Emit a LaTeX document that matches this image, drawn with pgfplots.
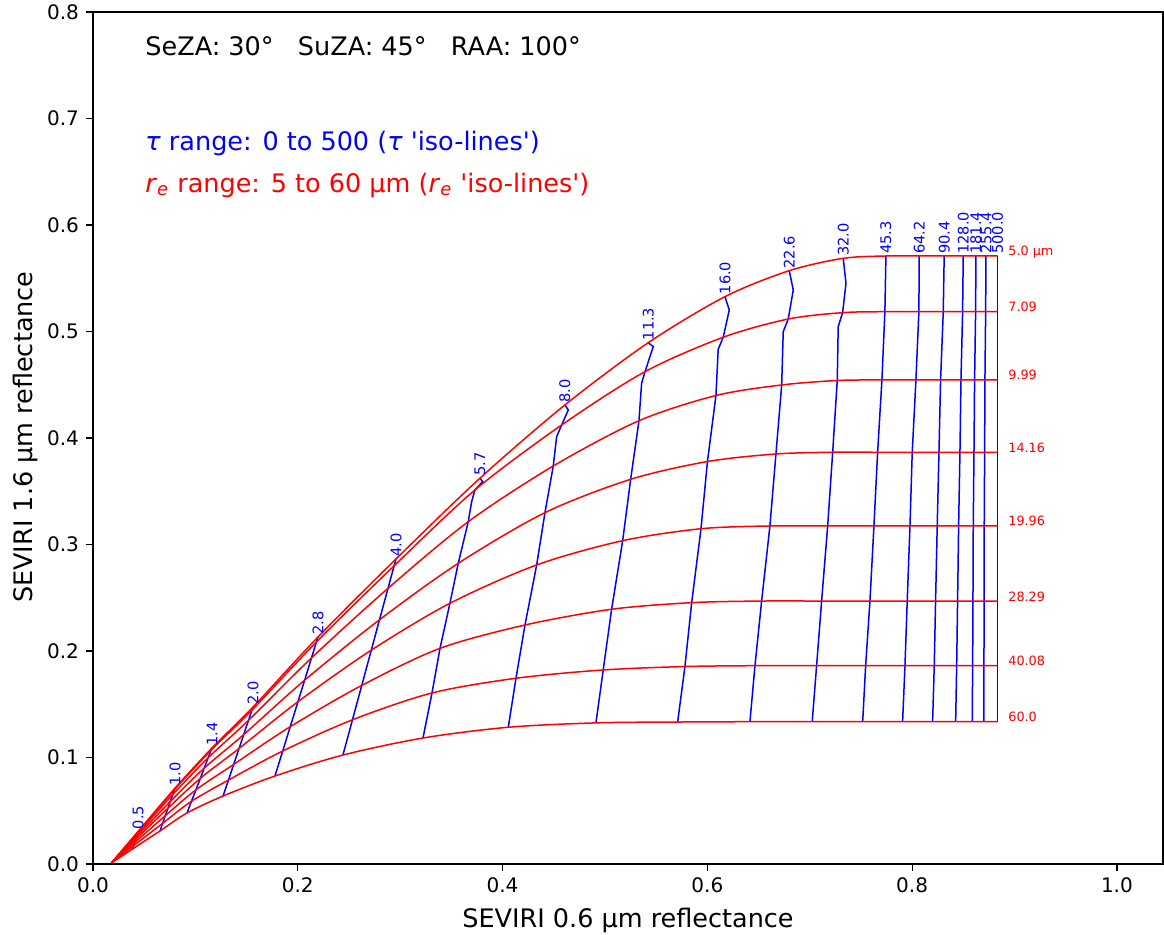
\documentclass[border=0pt]{standalone}
\usepackage{fontspec}
\setmainfont{DejaVu Sans}
\usepackage{pgfplots}
\pgfplotsset{compat=1.18}
\begin{document}
\begin{tikzpicture}
\useasboundingbox (-46.5pt,-35.5pt) rectangle (535.5pt,432pt);
\begin{axis}[
  at={(0pt,0pt)}, anchor=south west,
  scale only axis, width=535pt, height=426pt,
  xmin=0, xmax=1.045, ymin=0, ymax=0.8,
  xtick={0,0.2,0.4,0.6,0.8,1.0},
  ytick={0,0.1,0.2,0.3,0.4,0.5,0.6,0.7,0.8},
  xtick pos=bottom, ytick pos=left,
  tick align=outside,
  major tick length=3.5pt,
  axis line style={line width=0.6pt},
  every tick/.style={black, line width=0.6pt},
  tick label style={font=\fontsize{10}{12}\selectfont},
  xticklabel style={/pgf/number format/fixed, /pgf/number format/fixed zerofill, /pgf/number format/precision=1},
  yticklabel style={/pgf/number format/fixed, /pgf/number format/fixed zerofill, /pgf/number format/precision=1},
  /pgf/number format/assume math mode=true,
  xlabel={SEVIRI 0.6 µm reflectance},
  ylabel={SEVIRI 1.6 µm reflectance},
  label style={font=\fontsize{12.75}{15}\selectfont},
  xlabel style={at={(axis description cs:0.5,-0.0751)}, anchor=base},
  ylabel style={at={(axis description cs:-0.057,0.501)}, anchor=base},
  clip=false,
]
% ---- tau iso-lines (blue) ----
\addplot[blue, line width=0.75pt] coordinates {(0.0440,0.0305) (0.0438,0.0299) (0.0432,0.0280) (0.0423,0.0254) (0.0414,0.0228) (0.0405,0.0199) (0.0395,0.0170) (0.0385,0.0140)};
\addplot[blue, line width=0.75pt] coordinates {(0.0801,0.0712) (0.0796,0.0698) (0.0779,0.0652) (0.0755,0.0587) (0.0733,0.0525) (0.0706,0.0453) (0.0680,0.0382) (0.0654,0.0310)};
\addplot[blue, line width=0.75pt] coordinates {(0.1162,0.1089) (0.1153,0.1068) (0.1125,0.0998) (0.1086,0.0900) (0.1049,0.0805) (0.1005,0.0696) (0.0962,0.0589) (0.0918,0.0479)};
\addplot[blue, line width=0.75pt] coordinates {(0.1563,0.1474) (0.1553,0.1445) (0.1519,0.1349) (0.1472,0.1215) (0.1427,0.1085) (0.1374,0.0935) (0.1323,0.0788) (0.1270,0.0638)};
\addplot[blue, line width=0.75pt] coordinates {(0.2197,0.2131) (0.2182,0.2085) (0.2134,0.1935) (0.2067,0.1726) (0.2002,0.1524) (0.1926,0.1289) (0.1853,0.1061) (0.1777,0.0826)};
\addplot[blue, line width=0.75pt] coordinates {(0.2959,0.2864) (0.2941,0.2800) (0.2881,0.2588) (0.2798,0.2293) (0.2718,0.2008) (0.2625,0.1677) (0.2534,0.1354) (0.2441,0.1023)};
\addplot[blue, line width=0.75pt] coordinates {(0.3779,0.3622) (0.3806,0.3590) (0.3730,0.3512) (0.3698,0.3402) (0.3665,0.3214) (0.3567,0.2823) (0.3486,0.2448) (0.3389,0.2025) (0.3311,0.1606) (0.3223,0.1183)};
\addplot[blue, line width=0.75pt] coordinates {(0.4609,0.4310) (0.4642,0.4263) (0.4577,0.4122) (0.4528,0.4012) (0.4495,0.3737) (0.4414,0.3299) (0.4333,0.2808) (0.4219,0.2244) (0.4131,0.1744) (0.4056,0.1284)};
\addplot[blue, line width=0.75pt] coordinates {(0.5423,0.4895) (0.5472,0.4857) (0.5391,0.4623) (0.5358,0.4514) (0.5332,0.4162) (0.5251,0.3612) (0.5173,0.3036) (0.5065,0.2392) (0.4983,0.1822) (0.4912,0.1325)};
\addplot[blue, line width=0.75pt] coordinates {(0.6172,0.5327) (0.6214,0.5202) (0.6155,0.4946) (0.6106,0.4833) (0.6084,0.4399) (0.6001,0.3779) (0.5938,0.3148) (0.5847,0.2454) (0.5781,0.1854) (0.5710,0.1333)};
\addplot[blue, line width=0.75pt] coordinates {(0.6800,0.5571) (0.6839,0.5390) (0.6790,0.5117) (0.6741,0.4998) (0.6726,0.4498) (0.6670,0.3850) (0.6611,0.3174) (0.6530,0.2469) (0.6465,0.1862) (0.6416,0.1336)};
\addplot[blue, line width=0.75pt] coordinates {(0.7327,0.5687) (0.7354,0.5452) (0.7321,0.5177) (0.7278,0.5045) (0.7269,0.4545) (0.7224,0.3866) (0.7175,0.3174) (0.7116,0.2469) (0.7067,0.1862) (0.7024,0.1336)};
\addplot[blue, line width=0.75pt] coordinates {(0.7744,0.5709) (0.7734,0.5186) (0.7705,0.4545) (0.7663,0.3866) (0.7627,0.3174) (0.7588,0.2469) (0.7546,0.1862) (0.7517,0.1336)};
\addplot[blue, line width=0.75pt] coordinates {(0.8069,0.5709) (0.8066,0.5186) (0.8037,0.4545) (0.8001,0.3866) (0.7979,0.3174) (0.7952,0.2469) (0.7930,0.1862) (0.7907,0.1336)};
\addplot[blue, line width=0.75pt] coordinates {(0.8313,0.5709) (0.8304,0.5186) (0.8278,0.4545) (0.8262,0.3866) (0.8245,0.3174) (0.8229,0.2469) (0.8216,0.1862) (0.8200,0.1336)};
\addplot[blue, line width=0.75pt] coordinates {(0.8499,0.5709) (0.8493,0.5186) (0.8477,0.4545) (0.8467,0.3866) (0.8454,0.3174) (0.8444,0.2469) (0.8435,0.1862) (0.8425,0.1336)};
\addplot[blue, line width=0.75pt] coordinates {(0.8623,0.5709) (0.8620,0.5186) (0.8610,0.4545) (0.8604,0.3866) (0.8597,0.3174) (0.8594,0.2469) (0.8591,0.1862) (0.8587,0.1336)};
\addplot[blue, line width=0.75pt] coordinates {(0.8721,0.5709) (0.8718,0.5186) (0.8711,0.4545) (0.8708,0.3866) (0.8704,0.3174) (0.8704,0.2469) (0.8701,0.1862) (0.8701,0.1336)};
\addplot[blue, line width=0.75pt] coordinates {(0.8835,0.5709) (0.8835,0.5186) (0.8835,0.4545) (0.8835,0.3866) (0.8835,0.3174) (0.8835,0.2469) (0.8835,0.1862) (0.8835,0.1336)};
% ---- r_e iso-lines (red) ----
\addplot[red, line width=0.75pt, smooth] coordinates {(0.018,0.001) (0.0440,0.0305) (0.0801,0.0712) (0.1162,0.1089) (0.1563,0.1474) (0.2197,0.2131) (0.2959,0.2864) (0.3779,0.3622) (0.4609,0.4310) (0.5423,0.4895) (0.6172,0.5327) (0.6800,0.5571) (0.7327,0.5687) (0.7744,0.5709) (0.8069,0.5709) (0.8313,0.5709) (0.8499,0.5709) (0.8623,0.5709) (0.8721,0.5709) (0.8835,0.5709)};
\addplot[red, line width=0.75pt, smooth] coordinates {(0.018,0.001) (0.0438,0.0299) (0.0796,0.0698) (0.1153,0.1068) (0.1553,0.1445) (0.2182,0.2085) (0.2941,0.2800) (0.3730,0.3512) (0.4577,0.4122) (0.5391,0.4623) (0.6155,0.4946) (0.6790,0.5117) (0.7321,0.5177) (0.7734,0.5186) (0.8066,0.5186) (0.8304,0.5186) (0.8493,0.5186) (0.8620,0.5186) (0.8718,0.5186) (0.8835,0.5186)};
\addplot[red, line width=0.75pt, smooth] coordinates {(0.018,0.001) (0.0432,0.0280) (0.0779,0.0652) (0.1125,0.0998) (0.1519,0.1349) (0.2134,0.1935) (0.2881,0.2588) (0.3665,0.3214) (0.4495,0.3737) (0.5332,0.4162) (0.6084,0.4399) (0.6726,0.4498) (0.7269,0.4540) (0.7705,0.4545) (0.8037,0.4545) (0.8278,0.4545) (0.8477,0.4545) (0.8610,0.4545) (0.8711,0.4545) (0.8835,0.4545)};
\addplot[red, line width=0.75pt, smooth] coordinates {(0.018,0.001) (0.0423,0.0254) (0.0755,0.0587) (0.1086,0.0900) (0.1472,0.1215) (0.2067,0.1726) (0.2798,0.2293) (0.3567,0.2823) (0.4414,0.3299) (0.5251,0.3612) (0.6001,0.3779) (0.6670,0.3850) (0.7224,0.3866) (0.7663,0.3866) (0.8001,0.3866) (0.8262,0.3866) (0.8467,0.3866) (0.8604,0.3866) (0.8708,0.3866) (0.8835,0.3866)};
\addplot[red, line width=0.75pt, smooth] coordinates {(0.018,0.001) (0.0414,0.0228) (0.0733,0.0525) (0.1049,0.0805) (0.1427,0.1085) (0.2002,0.1524) (0.2718,0.2008) (0.3486,0.2448) (0.4333,0.2808) (0.5173,0.3036) (0.5938,0.3148) (0.6611,0.3174) (0.7175,0.3174) (0.7627,0.3174) (0.7979,0.3174) (0.8245,0.3174) (0.8454,0.3174) (0.8597,0.3174) (0.8704,0.3174) (0.8835,0.3174)};
\addplot[red, line width=0.75pt, smooth] coordinates {(0.018,0.001) (0.0405,0.0199) (0.0706,0.0453) (0.1005,0.0696) (0.1374,0.0935) (0.1926,0.1289) (0.2625,0.1677) (0.3389,0.2025) (0.4219,0.2244) (0.5065,0.2392) (0.5847,0.2454) (0.6530,0.2469) (0.7116,0.2469) (0.7588,0.2469) (0.7952,0.2469) (0.8229,0.2469) (0.8444,0.2469) (0.8594,0.2469) (0.8704,0.2469) (0.8835,0.2469)};
\addplot[red, line width=0.75pt, smooth] coordinates {(0.018,0.001) (0.0395,0.0170) (0.0680,0.0382) (0.0962,0.0589) (0.1323,0.0788) (0.1853,0.1061) (0.2534,0.1354) (0.3311,0.1606) (0.4131,0.1744) (0.4983,0.1822) (0.5781,0.1854) (0.6465,0.1862) (0.7067,0.1862) (0.7546,0.1862) (0.7930,0.1862) (0.8216,0.1862) (0.8435,0.1862) (0.8591,0.1862) (0.8701,0.1862) (0.8835,0.1862)};
\addplot[red, line width=0.75pt, smooth] coordinates {(0.018,0.001) (0.0385,0.0140) (0.0654,0.0310) (0.0918,0.0479) (0.1270,0.0638) (0.1777,0.0826) (0.2441,0.1023) (0.3223,0.1183) (0.4056,0.1284) (0.4912,0.1325) (0.5710,0.1333) (0.6416,0.1336) (0.7024,0.1336) (0.7517,0.1336) (0.7907,0.1336) (0.8200,0.1336) (0.8425,0.1336) (0.8587,0.1336) (0.8701,0.1336) (0.8835,0.1336)};
% ---- tau labels ----
\begin{scope}[every node/.style={blue, rotate=90, anchor=west, inner sep=1pt, font=\fontsize{7.3}{8}\selectfont}]
\node at (axis cs:0.0440,0.0305) {0.5};
\node at (axis cs:0.0801,0.0712) {1.0};
\node at (axis cs:0.1162,0.1089) {1.4};
\node at (axis cs:0.1563,0.1474) {2.0};
\node at (axis cs:0.2197,0.2131) {2.8};
\node at (axis cs:0.2959,0.2864) {4.0};
\node at (axis cs:0.3779,0.3622) {5.7};
\node at (axis cs:0.4609,0.4310) {8.0};
\node at (axis cs:0.5423,0.4895) {11.3};
\node at (axis cs:0.6172,0.5327) {16.0};
\node at (axis cs:0.6800,0.5571) {22.6};
\node at (axis cs:0.7327,0.5687) {32.0};
\node at (axis cs:0.7744,0.5709) {45.3};
\node at (axis cs:0.8069,0.5709) {64.2};
\node at (axis cs:0.8313,0.5709) {90.4};
\node at (axis cs:0.8499,0.5709) {128.0};
\node at (axis cs:0.8623,0.5709) {181.4};
\node at (axis cs:0.8721,0.5709) {255.4};
\node at (axis cs:0.8835,0.5709) {500.0};
\end{scope}
% ---- r_e labels ----
\begin{scope}[every node/.style={red, anchor=base west, inner sep=0pt, font=\fontsize{6.4}{8}\selectfont}]
\node at (axis cs:0.8936,0.5709) {5.0 µm};
\node at (axis cs:0.8936,0.5186) {7.09};
\node at (axis cs:0.8936,0.4545) {9.99};
\node at (axis cs:0.8936,0.3866) {14.16};
\node at (axis cs:0.8936,0.3174) {19.96};
\node at (axis cs:0.8936,0.2469) {28.29};
\node at (axis cs:0.8936,0.1862) {40.08};
\node at (axis cs:0.8936,0.1336) {60.0};
\end{scope}
% ---- annotations ----
\begin{scope}[every node/.style={anchor=base west, inner sep=0pt, font=\fontsize{12.75}{15}\selectfont}]
\node at (axis cs:0.0508,0.7596) {SeZA: 30°~~~SuZA: 45°~~~RAA: 100°};
\node[blue] at (axis cs:0.0508,0.6698) {\textit{τ} range: 0 to 500 (\textit{τ} \textquotesingle{}iso-lines\textquotesingle)};
\node[red] at (axis cs:0.0508,0.6307) {\textit{r}\textsubscript{\textit{e}} range: 5 to 60 µm (\textit{r}\textsubscript{\textit{e}} \textquotesingle{}iso-lines\textquotesingle)};
\end{scope}
\end{axis}
\end{tikzpicture}
\end{document}
